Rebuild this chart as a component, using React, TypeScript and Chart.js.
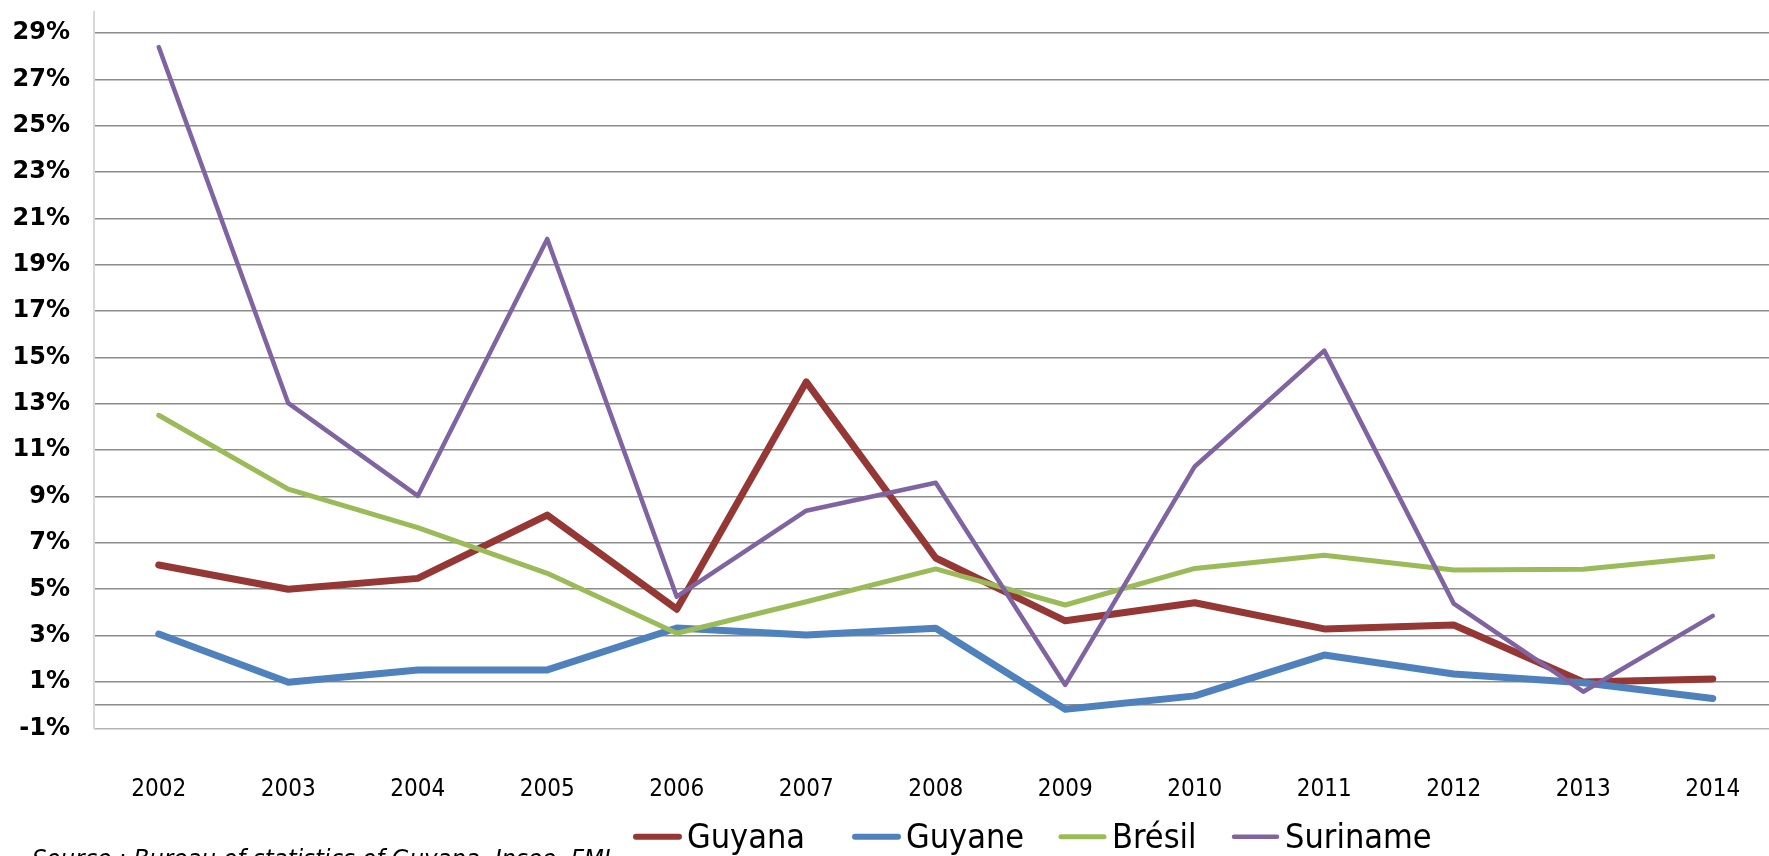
import React, { useEffect, useRef } from "react";
import { Chart, registerables } from "chart.js";

Chart.register(...registerables);

// ---- data ----
const years = ["2002", "2003", "2004", "2005", "2006", "2007", "2008", "2009", "2010", "2011", "2012", "2013", "2014"];
const guyana = [6.05, 5.0, 5.47, 8.2, 4.14, 13.95, 6.35, 3.64, 4.42, 3.29, 3.46, 1.0, 1.13];
const guyane = [3.07, 0.99, 1.52, 1.52, 3.33, 3.03, 3.32, -0.18, 0.4, 2.16, 1.34, 0.97, 0.29];
const bresil = [12.51, 9.32, 7.66, 5.69, 3.1, 4.46, 5.88, 4.32, 5.9, 6.47, 5.83, 5.86, 6.41];
const suriname = [28.4, 13.03, 9.03, 20.12, 4.68, 8.39, 9.6, 0.87, 10.3, 15.3, 4.38, 0.58, 3.85];
const seriesNames = ["Guyana", "Guyane", "Brésil", "Suriname"];
const yTickValues = [-1, 0, 1, 3, 5, 7, 9, 11, 13, 15, 17, 19, 21, 23, 25, 27, 29];
const sourceText = "Source : Bureau of statistics of Guyana, Insee, FMI";

// ---- layout / style ----
const W = 1800;
const H = 856;
const AREA = { left: 94, right: 1777.5, top: 12.3, bottom: 728.3 };
const COLORS = ["#953735", "#4F81BD", "#9BBB59", "#8064A2"];
const WIDTHS = [7, 7, 5, 4.5];
const LEGEND_X = [633, 852, 1058, 1231];
const LEGEND_LINE_Y = 836.7;
const LEGEND_TEXT_Y = 848;
const CONDENSED = '"DejaVu Sans Condensed", "DejaVu Sans", sans-serif';

const overlayPlugin = {
  id: "overlayLegend",
  afterDraw(chart: any) {
    const ctx = chart.ctx as CanvasRenderingContext2D;
    ctx.save();
    chart.data.datasets.forEach((ds: any, i: number) => {
      const x0 = LEGEND_X[i];
      ctx.strokeStyle = ds.borderColor;
      ctx.lineWidth = Math.min(ds.borderWidth, 6);
      ctx.lineCap = "round";
      ctx.beginPath();
      ctx.moveTo(x0 + 3, LEGEND_LINE_Y);
      ctx.lineTo(x0 + 46, LEGEND_LINE_Y);
      ctx.stroke();
      ctx.fillStyle = "#000";
      ctx.font = `34px ${CONDENSED}`;
      ctx.textAlign = "left";
      ctx.textBaseline = "alphabetic";
      ctx.fillText(ds.label, x0 + 54, LEGEND_TEXT_Y);
    });
    ctx.font = `italic 25.5px ${CONDENSED}`;
    ctx.fillStyle = "#000";
    ctx.fillText(sourceText, 32, 867);
    ctx.restore();
  },
};

export default function App() {
  const ref = useRef<HTMLCanvasElement | null>(null);

  useEffect(() => {
    document.documentElement.style.overflow = "hidden";
    document.body.style.overflow = "hidden";
    const canvas = ref.current;
    if (!canvas) return;
    const seriesData = [guyana, guyane, bresil, suriname];
    const chart = new Chart(canvas, {
      type: "line",
      data: {
        labels: years,
        datasets: seriesData.map((d, i) => ({
          label: seriesNames[i],
          data: d,
          borderColor: COLORS[i],
          backgroundColor: COLORS[i],
          borderWidth: WIDTHS[i],
          pointRadius: 0,
          pointHoverRadius: 0,
          borderCapStyle: "round",
          borderJoinStyle: "round",
          tension: 0,
          fill: false,
          order: 4 - i,
        })),
      },
      options: {
        animation: false,
        responsive: false,
        devicePixelRatio: 1,
        layout: { padding: { left: 0, top: AREA.top, right: W - AREA.right, bottom: 0 } },
        plugins: {
          legend: { display: false },
          tooltip: { enabled: false },
          title: { display: false },
        },
        scales: {
          x: {
            type: "category",
            offset: true,
            afterFit: (s: any) => {
              s.height = H - AREA.bottom;
              s.paddingLeft = 0;
              s.paddingRight = 0;
            },
            grid: { display: false, drawTicks: false },
            border: { display: false },
            ticks: {
              padding: 47,
              color: "#000",
              autoSkip: false,
              maxRotation: 0,
              minRotation: 0,
              font: { family: CONDENSED, size: 24 },
            },
          },
          y: {
            type: "linear",
            min: -1,
            max: 29.9,
            afterBuildTicks: (s: any) => {
              s.ticks = yTickValues.map((v) => ({ value: v }));
            },
            afterFit: (s: any) => {
              s.width = AREA.left;
              s.paddingTop = 0;
              s.paddingBottom = 0;
            },
            grid: {
              drawTicks: false,
              lineWidth: 1.6,
              color: (c: any) => (c.tick && c.tick.value === -1 ? "#b4b4b4" : "#8c8c8c"),
            },
            border: { display: true, color: "#d9d9d9", width: 2 },
            ticks: {
              padding: 24,
              color: "#000",
              font: { family: '"DejaVu Sans", sans-serif', size: 24, weight: "bold" },
              callback: (v: any) => (Number(v) === 0 ? "" : `${v}%`),
            },
          },
        },
      },
      plugins: [overlayPlugin],
    });
    return () => chart.destroy();
  }, []);

  return (
    <div style={{ position: "fixed", left: 0, top: 0, width: W, height: H, background: "#fff" }}>
      <canvas ref={ref} width={W} height={H} style={{ display: "block", width: W, height: H }} />
    </div>
  );
}
